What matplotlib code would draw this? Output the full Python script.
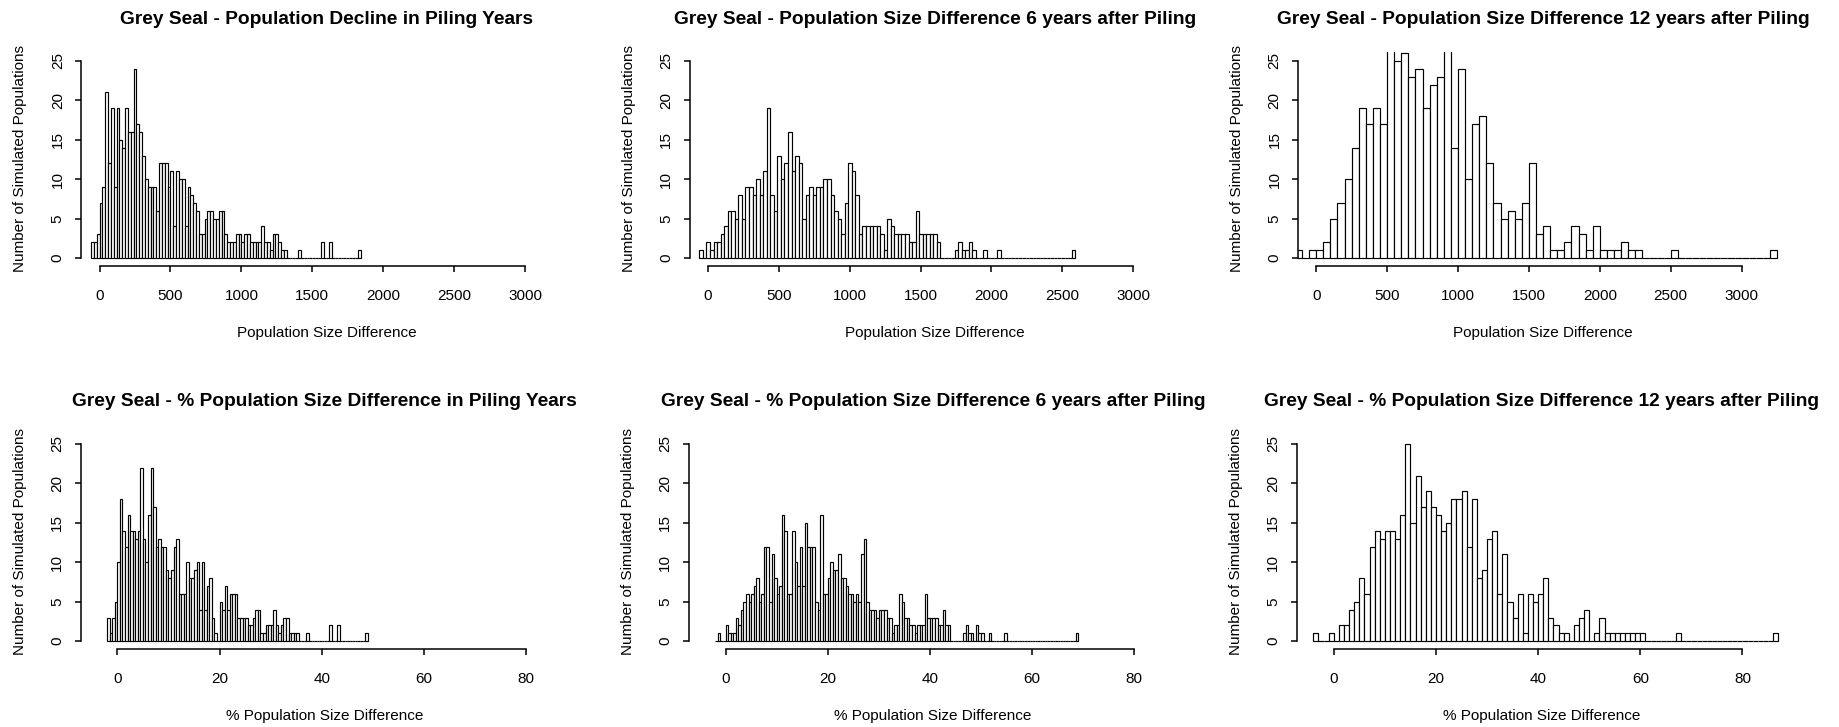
import numpy as np
import matplotlib
matplotlib.use("Agg")
import matplotlib.pyplot as plt

plt.rcParams["font.family"] = ["Liberation Sans", "DejaVu Sans"]

W, H = 1839, 727

# Histogram counts: one entry per bin, bins start at *_start and are *_width wide
decline_start, decline_width = -60, 20
decline_counts = [2, 2, 3, 7, 9, 21, 12, 19, 9, 19,
                  15, 14, 19, 16, 16, 24, 17, 16, 13, 10,
                  9, 9, 9, 6, 12, 12, 12, 9, 11, 4,
                  11, 10, 10, 4, 9, 8, 7, 6, 3, 3,
                  5, 6, 6, 5, 5, 6, 6, 3, 2, 2,
                  2, 3, 3, 2, 3, 3, 2, 2, 2, 2,
                  4, 2, 2, 1, 3, 3, 2, 1, 1, 0,
                  0, 0, 0, 1, 0, 0, 0, 0, 0, 0,
                  0, 2, 0, 0, 2, 0, 0, 0, 0, 0,
                  0, 0, 0, 0, 1]

diff6_start, diff6_width = -60, 25
diff6_counts = [1, 0, 2, 1, 2, 2, 3, 4, 6, 6,
                5, 8, 5, 9, 9, 8, 10, 8, 11, 19,
                8, 6, 13, 10, 12, 16, 11, 13, 12, 5,
                8, 9, 8, 9, 9, 10, 10, 8, 6, 5,
                3, 7, 12, 11, 8, 3, 4, 4, 4, 4,
                4, 3, 1, 5, 4, 3, 3, 3, 3, 2,
                2, 6, 3, 3, 3, 3, 3, 2, 0, 0,
                0, 0, 1, 2, 1, 1, 2, 1, 0, 0,
                1, 0, 0, 0, 1, 0, 0, 0, 0, 0,
                0, 0, 0, 0, 0, 0, 0, 0, 0, 0,
                0, 0, 0, 0, 0, 1]

diff12_start, diff12_width = -150, 50
diff12_counts = [1, 0, 1, 1, 2, 5, 7, 10, 14, 19,
                 17, 19, 17, 28, 25, 26, 23, 24, 19, 22,
                 23, 27, 14, 24, 10, 17, 18, 12, 7, 5,
                 6, 5, 7, 12, 3, 4, 1, 1, 2, 4,
                 3, 1, 4, 1, 1, 1, 2, 1, 1, 0,
                 0, 0, 0, 1, 0, 0, 0, 0, 0, 0,
                 0, 0, 0, 0, 0, 0, 0, 1]

pct_piling_start, pct_piling_width = -2.0, 0.5
pct_piling_counts = [3, 1, 3, 5, 10, 18, 14, 12, 16, 14,
                     14, 13, 14, 22, 13, 10, 16, 22, 17, 12,
                     13, 12, 12, 9, 8, 9, 12, 13, 6, 6,
                     6, 10, 8, 8, 9, 10, 4, 10, 4, 7,
                     8, 3, 1, 0, 5, 4, 7, 4, 6, 6,
                     6, 3, 3, 3, 3, 2, 2, 3, 4, 4,
                     1, 1, 2, 2, 2, 4, 2, 1, 2, 3,
                     3, 1, 1, 1, 1, 0, 0, 0, 1, 0,
                     0, 0, 0, 0, 0, 0, 0, 2, 0, 0,
                     2, 0, 0, 0, 0, 0, 0, 0, 0, 0,
                     0, 1]

pct6_start, pct6_width = -2.0, 0.5
pct6_counts = [0, 1, 0, 0, 2, 1, 1, 1, 3, 2,
               4, 5, 6, 5, 6, 7, 8, 5, 6, 12,
               12, 5, 11, 8, 6, 7, 16, 14, 6, 6,
               14, 10, 7, 12, 7, 15, 12, 12, 12, 5,
               4, 16, 6, 6, 8, 10, 9, 9, 11, 8,
               8, 7, 6, 6, 5, 6, 5, 11, 13, 5,
               4, 4, 4, 3, 4, 4, 4, 3, 3, 1,
               2, 2, 6, 5, 3, 3, 2, 2, 1, 2,
               2, 2, 6, 3, 3, 3, 3, 2, 2, 4,
               2, 2, 0, 0, 0, 0, 0, 1, 2, 1,
               1, 0, 2, 1, 1, 0, 0, 1, 0, 0,
               0, 0, 0, 1] + [0] * 27 + [1]

pct12_start, pct12_width = -4, 1
pct12_counts = [1, 0, 0, 1, 0, 2, 2, 4, 5, 8,
                6, 12, 14, 13, 14, 14, 13, 16, 25, 15,
                21, 17, 19, 17, 16, 14, 15, 18, 18, 19,
                12, 18, 8, 9, 13, 14, 6, 11, 5, 3,
                6, 1, 6, 5, 6, 8, 3, 2, 1, 1,
                0, 2, 3, 4, 0, 1, 3, 1, 1, 1,
                1, 1, 1, 1, 1, 0, 0, 0, 0, 0,
                0, 1] + [0] * 18 + [1]

titles = [
    "Grey Seal - Population Decline in Piling Years",
    "Grey Seal - Population Size Difference 6 years after Piling",
    "Grey Seal - Population Size Difference 12 years after Piling",
    "Grey Seal - % Population Size Difference in Piling Years",
    "Grey Seal - % Population Size Difference 6 years after Piling",
    "Grey Seal - % Population Size Difference 12 years after Piling",
]
xlabels = ["Population Size Difference"] * 3 + ["% Population Size Difference"] * 3
ylabel = "Number of Simulated Populations"
abs_ticks = [0, 500, 1000, 1500, 2000, 2500, 3000]
pct_ticks = [0, 20, 40, 60, 80]
count_ticks = [0, 5, 10, 15, 20, 25]

panels = [
    (decline_start, decline_width, decline_counts),
    (diff6_start, diff6_width, diff6_counts),
    (diff12_start, diff12_width, diff12_counts),
    (pct_piling_start, pct_piling_width, pct_piling_counts),
    (pct6_start, pct6_width, pct6_counts),
    (pct12_start, pct12_width, pct12_counts),
]

fig = plt.figure(figsize=(W / 100, H / 100), dpi=100)
fig.patch.set_facecolor("white")

for i, (start, width, counts) in enumerate(panels):
    row, col = divmod(i, 3)
    if row == 0:
        left, right = 81.45 + 608.3 * col, 571.5 + 608.3 * col
        top, bottom = 51.5, 265.9
        xlim, ticks = (-128, 3328), abs_ticks
        title_y, xlab_y = 19.5, 333
    else:
        left, right = 80.6 + 608.2 * col, 569.0 + 608.2 * col
        top, bottom = 434.5, 649.1
        xlim, ticks = (-7.2, 88.4), pct_ticks
        title_y, xlab_y = 401.0, 716
    ax = fig.add_axes([left / W, 1 - bottom / H, (right - left) / W, (bottom - top) / H])
    ax.patch.set_alpha(0)

    edges = start + width * np.arange(len(counts))
    ax.bar(edges, counts, width=width, align="edge", color="white",
           edgecolor="black", linewidth=0.85)

    ax.set_xlim(*xlim)
    ax.set_ylim(-1, 26.2)
    for side in ("top", "right"):
        ax.spines[side].set_visible(False)
    ax.spines["left"].set_bounds(0, 25)
    ax.spines["bottom"].set_bounds(ticks[0], ticks[-1])
    for side in ("left", "bottom"):
        ax.spines[side].set_linewidth(1.1)
    ax.set_xticks(ticks)
    ax.set_yticks(count_ticks)
    ax.tick_params(length=4.5, width=1.1, labelsize=11, colors="black")
    ax.tick_params(axis="x", pad=12)
    ax.tick_params(axis="y", pad=7.5, labelrotation=90)
    plt.setp(ax.get_yticklabels(), va="center")

    cx = (left + right) / 2
    fig.text(cx / W, 1 - title_y / H, titles[i], ha="center", va="center",
             fontsize=13.8, fontweight="bold")
    fig.text(cx / W, 1 - xlab_y / H, xlabels[i], ha="center", va="center", fontsize=11)
    fig.text((left - 61) / W, 1 - (top + bottom) / 2 / H, ylabel, rotation=90,
             ha="center", va="center", fontsize=11)

fig.savefig("out.png", dpi=100)
